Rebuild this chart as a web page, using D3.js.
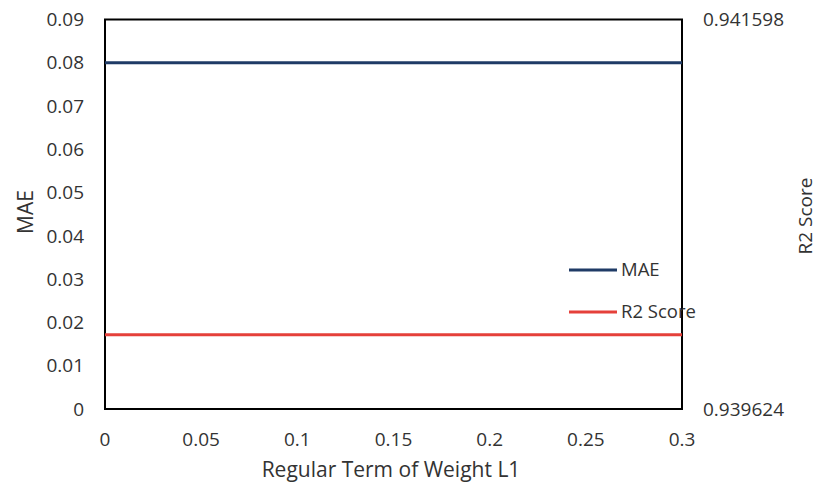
<!DOCTYPE html>
<html>
<head>
<meta charset="utf-8">
<script src="https://cdn.jsdelivr.net/npm/d3@7"></script>
<style>
  body { margin: 0; background: #fff; }
  text { font-family: "Open Sans", Lato, sans-serif; fill: #333; }
</style>
</head>
<body>
<div id="chart"></div>
<script>
// data
var xValues = [0, 0.05, 0.1, 0.15, 0.2, 0.25, 0.3];
var maeValues = [0.08, 0.08, 0.08, 0.08, 0.08, 0.08, 0.08];
var r2Values = [0.94, 0.94, 0.94, 0.94, 0.94, 0.94, 0.94];
var xTicks = [0, 0.05, 0.1, 0.15, 0.2, 0.25, 0.3];
var maeTicks = [0, 0.01, 0.02, 0.03, 0.04, 0.05, 0.06, 0.07, 0.08, 0.09];
var r2Ticks = [0.939624, 0.941598];

var width = 819,
    height = 489,
    margin = {top: 19.5, right: 137, bottom: 80, left: 105};

var svg = d3.select("#chart")
    .append("svg")
    .attr("width", width)
    .attr("height", height);

var x = d3.scaleLinear()
    .domain([0, 0.3])
    .range([margin.left, width - margin.right]);

var yL = d3.scaleLinear()
    .domain([0, 0.09])
    .range([height - margin.bottom, margin.top]);

var yR = d3.scaleLinear()
    .domain([0.939624, 0.941598])
    .range([height - margin.bottom, margin.top]);

// frame
svg.append("rect")
    .attr("x", x(0))
    .attr("y", yL(0.09))
    .attr("width", x(0.3) - x(0))
    .attr("height", yL(0) - yL(0.09))
    .attr("fill", "none")
    .attr("stroke", "#000")
    .attr("stroke-width", 2);

// left axis labels
svg.append("g").selectAll("text")
    .data(maeTicks)
    .enter().append("text")
    .attr("x", x(0) - 21)
    .attr("y", function (d) { return yL(d); })
    .attr("dy", "0.35em")
    .attr("text-anchor", "end")
    .style("font-size", "19px")
    .text(function (d) { return d === 0 ? "0" : d.toFixed(2); });

// right axis labels
svg.append("g").selectAll("text")
    .data(r2Ticks)
    .enter().append("text")
    .attr("x", x(0.3) + 21)
    .attr("y", function (d) { return yR(d); })
    .attr("dy", "0.35em")
    .style("font-size", "19px")
    .text(function (d) { return d.toFixed(6); });

// bottom axis labels
svg.append("g").selectAll("text")
    .data(xTicks)
    .enter().append("text")
    .attr("x", function (d) { return x(d); })
    .attr("y", yL(0) + 30)
    .attr("dy", "0.35em")
    .attr("text-anchor", "middle")
    .style("font-size", "19px")
    .text(function (d) { return d === 0 ? "0" : String(d); });

// axis titles
svg.append("text")
    .attr("x", 391)
    .attr("y", 470)
    .attr("dy", "0.35em")
    .attr("text-anchor", "middle")
    .style("font-size", "21px")
    .text("Regular Term of Weight L1");

svg.append("text")
    .attr("transform", "translate(26," + 212 + ") rotate(-90)")
    .attr("dy", "0.35em")
    .attr("text-anchor", "middle")
    .style("font-size", "21px")
    .text("MAE");

svg.append("text")
    .attr("transform", "translate(805," + 216 + ") rotate(-90)")
    .attr("dy", "0.35em")
    .attr("text-anchor", "middle")
    .style("font-size", "19px")
    .text("R2 Score");

// lines
var maeLine = d3.line()
    .x(function (d, i) { return x(xValues[i]); })
    .y(function (d) { return yL(d); });

var r2Line = d3.line()
    .x(function (d, i) { return x(xValues[i]); })
    .y(function (d) { return yR(d); });

svg.append("path")
    .datum(maeValues)
    .attr("d", maeLine)
    .attr("fill", "none")
    .attr("stroke", "#1f3b66")
    .attr("stroke-width", 3);

svg.append("path")
    .datum(r2Values)
    .attr("d", r2Line)
    .attr("fill", "none")
    .attr("stroke", "#e5403a")
    .attr("stroke-width", 3);

// legend
var legend = [
    {name: "MAE", color: "#1f3b66", y: 270},
    {name: "R2 Score", color: "#e5403a", y: 312}
];
var lg = svg.append("g").selectAll("g")
    .data(legend)
    .enter().append("g");
lg.append("line")
    .attr("x1", 569).attr("x2", 617)
    .attr("y1", function (d) { return d.y; })
    .attr("y2", function (d) { return d.y; })
    .attr("stroke", function (d) { return d.color; })
    .attr("stroke-width", 3);
lg.append("text")
    .attr("x", 621)
    .attr("y", function (d) { return d.y; })
    .attr("dy", "0.35em")
    .style("font-size", "18.5px")
    .text(function (d) { return d.name; });
</script>
</body>
</html>
